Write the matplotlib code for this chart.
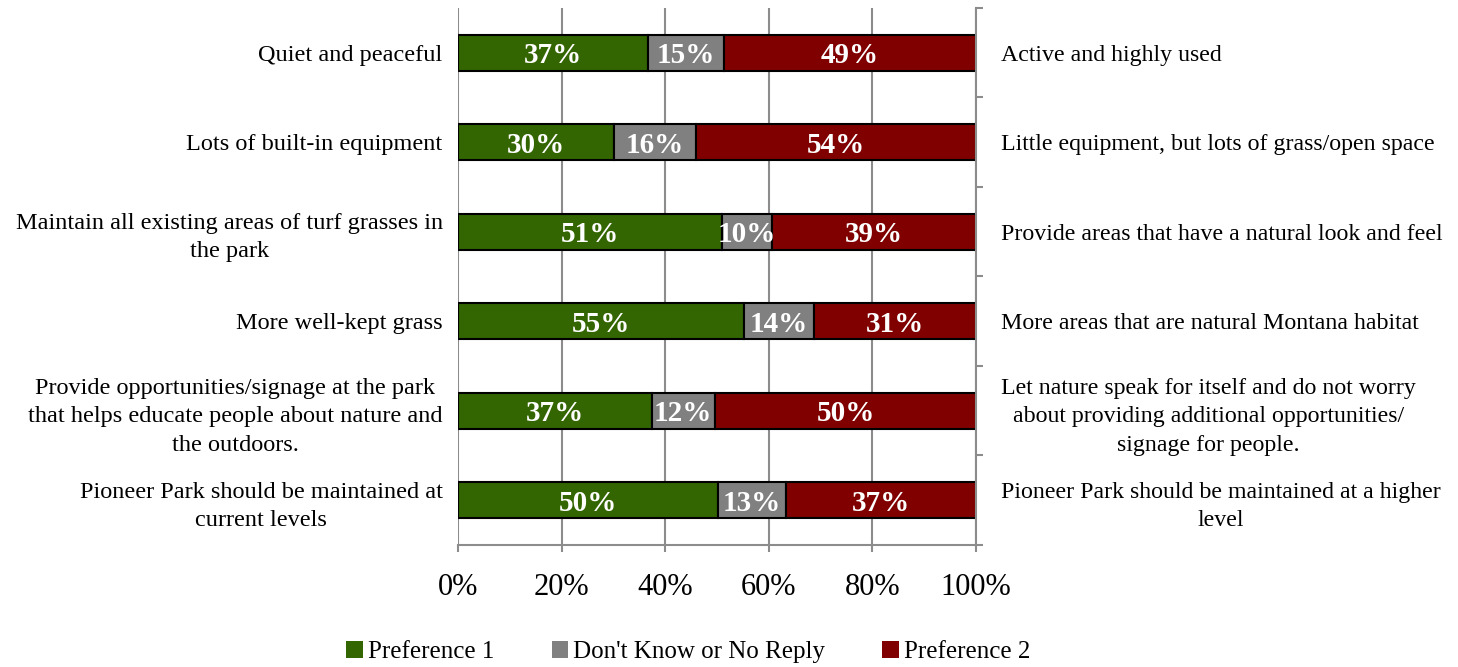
import matplotlib
matplotlib.use("Agg")
import matplotlib.pyplot as plt
from matplotlib.patches import Patch
from matplotlib.ticker import FixedLocator, PercentFormatter

plt.rcParams['font.family'] = ['Liberation Serif', 'DejaVu Serif']

left_labels = [
    "Quiet and peaceful",
    "Lots of built-in equipment",
    "Maintain all existing areas of turf grasses in\nthe park",
    "More well-kept grass",
    "Provide opportunities/signage at the park\nthat helps educate people about nature and\nthe outdoors.",
    "Pioneer Park should be maintained at\ncurrent levels",
]
right_labels = [
    "Active and highly used",
    "Little equipment, but lots of grass/open space",
    "Provide areas that have a natural look and feel",
    "More areas that are natural Montana habitat",
    "Let nature speak for itself and do not worry\nabout providing additional opportunities/\nsignage for people.",
    "Pioneer Park should be maintained at a higher\nlevel",
]
series_names = ["Preference 1", "Don't Know or No Reply", "Preference 2"]
pref1 = [36.6, 30.1, 51.0, 55.2, 37.4, 50.2]
dont_know = [14.8, 15.8, 9.7, 13.6, 12.2, 13.1]
pref2 = [48.6, 54.1, 39.3, 31.2, 50.4, 36.7]
colors = ["#336600", "#808080", "#800000"]

fig = plt.figure(figsize=(14.58, 6.67), dpi=100)
ax = fig.add_axes([0.3141, 0.183, 0.3553, 0.805])

ypos = list(range(len(left_labels)))
left = [0.0] * len(ypos)
for vals, col, name in zip([pref1, dont_know, pref2], colors, series_names):
    bars = ax.barh(ypos, vals, left=left, height=0.4, color=col,
                   edgecolor="black", linewidth=1.5, label=name, zorder=3)
    for b, v in zip(bars, vals):
        ax.text(b.get_x() + b.get_width() / 2, b.get_y() + b.get_height() / 2,
                f"{v:.0f}%", ha="center", va="center_baseline", color="white",
                fontsize=21, fontweight="bold", zorder=4)
    left = [l + v for l, v in zip(left, vals)]

ax.set_xlim(0, 100)
ax.set_ylim(len(ypos) - 0.5, -0.5)
ax.set_xticks([0, 20, 40, 60, 80, 100])
ax.xaxis.set_major_formatter(PercentFormatter(decimals=0))
ax.grid(axis="x", color="#8c8c8c", linewidth=1.5, zorder=0)
ax.tick_params(axis="x", labelsize=22, length=5, width=1.5, color="#8c8c8c", pad=15)

ax.set_yticks(ypos)
ax.set_yticklabels(left_labels, fontsize=17.5)
ax.tick_params(axis="y", length=0, pad=11)
for lbl in ax.get_yticklabels():
    lbl.set_multialignment("center")
    lbl.set_linespacing(1.45)

for s in ["top", "left", "right"]:
    ax.spines[s].set_visible(False)
ax.spines["bottom"].set_color("#8c8c8c")
ax.spines["bottom"].set_linewidth(1.5)

ax2 = ax.twinx()
ax2.set_ylim(ax.get_ylim())
ax2.yaxis.set_major_locator(FixedLocator([y - 0.5 for y in ypos] + [len(ypos) - 0.5]))
ax2.yaxis.set_major_formatter(plt.NullFormatter())
ax2.yaxis.set_minor_locator(FixedLocator(ypos))
ax2.set_yticklabels(right_labels, minor=True, fontsize=17.2)
ax2.tick_params(axis="y", which="major", length=5, width=1.5, color="#8c8c8c")
ax2.tick_params(axis="y", which="minor", length=0, pad=18)
for lbl in ax2.get_yticklabels(minor=True):
    lbl.set_multialignment("center")
    lbl.set_linespacing(1.45)
for s in ["top", "left", "bottom"]:
    ax2.spines[s].set_visible(False)
ax2.spines["right"].set_color("#8c8c8c")
ax2.spines["right"].set_linewidth(1.5)

handles = [Patch(facecolor=c, label=n) for c, n in zip(colors, series_names)]
fig.legend(handles=handles, loc="center", bbox_to_anchor=(0.472, 0.022), ncol=3,
           frameon=False, fontsize=18, handlelength=0.65, handleheight=0.65,
           handletextpad=0.2, columnspacing=2.3)

fig.savefig("out.png", dpi=100)
